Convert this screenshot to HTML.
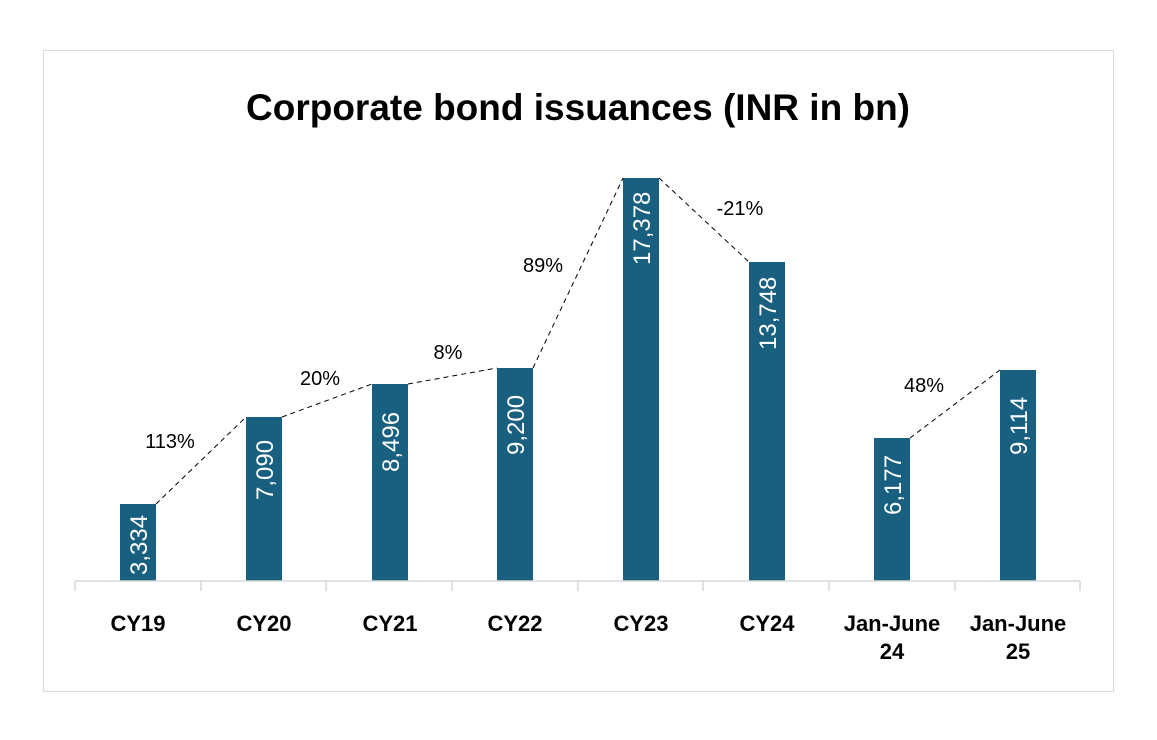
<!DOCTYPE html>
<html><head><style>body{margin:0;background:#fff}svg{display:block}</style></head><body>
<svg width="1157" height="740" xmlns="http://www.w3.org/2000/svg" font-family="Liberation Sans, sans-serif">
<rect x="43.5" y="50.5" width="1070" height="641" fill="#fff" stroke="#d9d9d9"/>
<text x="578" y="120" text-anchor="middle" font-size="37" font-weight="bold" fill="#000">Corporate bond issuances (INR in bn)</text>
<g fill="#185f80">
<rect x="120" y="504" width="36" height="77"/>
<rect x="246" y="417" width="36" height="164"/>
<rect x="372" y="384" width="36" height="197"/>
<rect x="497" y="368" width="36" height="213"/>
<rect x="623" y="178" width="36" height="403"/>
<rect x="749" y="262" width="36" height="319"/>
<rect x="874" y="438" width="36" height="143"/>
<rect x="1000" y="370" width="36" height="211"/>
</g>
<g stroke="#d9d9d9" stroke-width="1.5">
<line x1="75" y1="581" x2="1080" y2="581"/>
<line x1="75" y1="581" x2="75" y2="591"/><line x1="201" y1="581" x2="201" y2="591"/>
<line x1="326" y1="581" x2="326" y2="591"/><line x1="452" y1="581" x2="452" y2="591"/>
<line x1="578" y1="581" x2="578" y2="591"/><line x1="703" y1="581" x2="703" y2="591"/>
<line x1="829" y1="581" x2="829" y2="591"/><line x1="955" y1="581" x2="955" y2="591"/>
<line x1="1080" y1="581" x2="1080" y2="591"/>
</g>
<g stroke="#000" stroke-width="1" stroke-dasharray="5,4" fill="none">
<line x1="156" y1="504" x2="246" y2="417"/>
<line x1="282" y1="417" x2="372" y2="384"/>
<line x1="408" y1="384" x2="497" y2="368"/>
<line x1="533" y1="368" x2="623" y2="178"/>
<line x1="659" y1="178" x2="749" y2="262"/>
<line x1="910" y1="438" x2="1000" y2="370"/>
</g>
<g fill="#fff" font-size="24">
<text transform="translate(147,575) rotate(-90)">3,334</text>
<text transform="translate(273,500) rotate(-90)">7,090</text>
<text transform="translate(399,472) rotate(-90)">8,496</text>
<text transform="translate(524,455) rotate(-90)">9,200</text>
<text transform="translate(650,265) rotate(-90)">17,378</text>
<text transform="translate(776,350) rotate(-90)">13,748</text>
<text transform="translate(901,515) rotate(-90)">6,177</text>
<text transform="translate(1027,455) rotate(-90)">9,114</text>
</g>
<g fill="#000" font-size="20" text-anchor="middle">
<text x="170" y="448">113%</text>
<text x="320" y="385">20%</text>
<text x="448" y="359">8%</text>
<text x="543" y="272">89%</text>
<text x="740" y="215">-21%</text>
<text x="924" y="392">48%</text>
</g>
<g fill="#000" font-size="22" font-weight="bold" text-anchor="middle">
<text x="138" y="631">CY19</text>
<text x="264" y="631">CY20</text>
<text x="390" y="631">CY21</text>
<text x="515" y="631">CY22</text>
<text x="641" y="631">CY23</text>
<text x="767" y="631">CY24</text>
<text x="892" y="631">Jan-June</text><text x="892" y="659">24</text>
<text x="1018" y="631">Jan-June</text><text x="1018" y="659">25</text>
</g>
</svg>
</body></html>
